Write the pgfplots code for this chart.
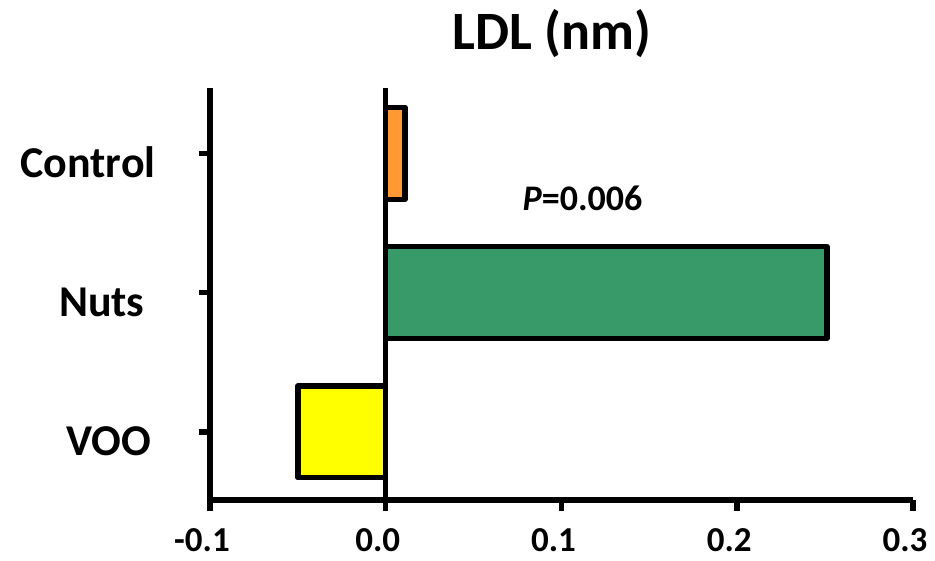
\documentclass[border=0pt]{standalone}
\usepackage{fontspec}
\setmainfont{Carlito}
\usepackage{pgfplots}
\pgfplotsset{compat=1.18}
\definecolor{barorange}{HTML}{FF9933}
\definecolor{bargreen}{HTML}{389A68}
\definecolor{baryellow}{HTML}{FFFF00}
\begin{document}
\begin{tikzpicture}[x=1pt,y=1pt]
\useasboundingbox (-210,-60) rectangle (725,500);
\begin{axis}[
  at={(0,0)}, anchor=south west,
  scale only axis, width=703pt, height=412pt,
  xmin=-0.1, xmax=0.3, ymin=-0.49, ymax=2.47,
  clip=false,
  axis lines*=left,
  axis line style={line width=5.5pt},
  every tick/.style={line width=5.5pt, black},
  major tick length=11pt,
  tick align=outside,
  xtick={-0.1,0,0.1,0.2,0.3},
  xticklabels={-0.1,0.0,0.1,0.2,0.3},
  ytick={0,1,2},
  yticklabels={VOO\hspace*{4pt},Nuts\hspace*{11pt},Control},
  xticklabel style={font=\fontsize{35}{35}\selectfont\bfseries, anchor=base, xshift=-8pt, yshift=-40pt},
  yticklabel style={font=\fontsize{44}{44}\selectfont\bfseries, anchor=base east, xshift=-40pt, yshift=-24pt},
]
\addplot[xbar, bar width=0.66, bar shift=0pt, fill=barorange, draw=black, line width=5.5pt, line join=round] coordinates {(0.011,2)};
\addplot[xbar, bar width=0.66, bar shift=0pt, fill=bargreen, draw=black, line width=5.5pt, line join=round] coordinates {(0.251,1)};
\addplot[xbar, bar width=0.66, bar shift=0pt, fill=baryellow, draw=black, line width=5.5pt, line join=round] coordinates {(-0.050,0)};
\draw[line width=5.5pt] (axis cs:0,-0.49) -- (axis cs:0,2.47);
\node[anchor=base, font=\fontsize{36}{36}\selectfont\bfseries] at (axis cs:0.112,1.59) {\textit{P}=0.006};
\node[anchor=base, font=\fontsize{54}{54}\selectfont\bfseries] at (rel axis cs:0.4865,1) [yshift=38pt] {LDL (nm)};
\end{axis}
\end{tikzpicture}
\end{document}
